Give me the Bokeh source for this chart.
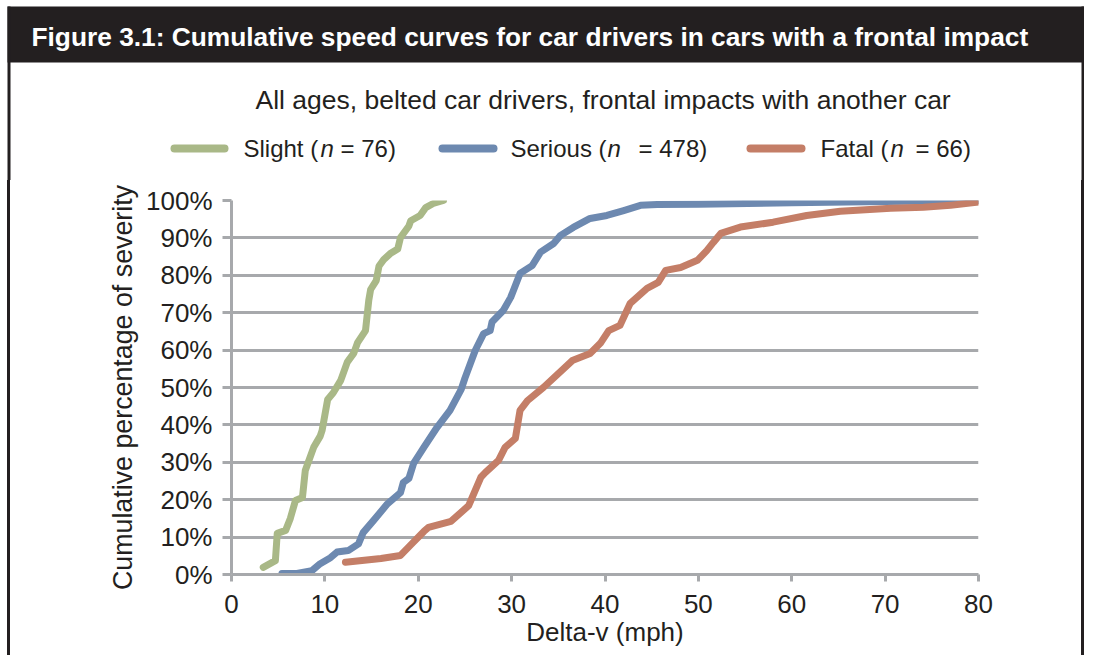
from bokeh.plotting import figure
from bokeh.layouts import column, row
from bokeh.models import Range1d, FixedTicker, PrintfTickFormatter, Spacer
from bokeh.core.properties import value
from bokeh.embed import file_html
from bokeh.resources import INLINE

# ---------------- data ----------------
slight_x = [3.4, 4.7, 4.9, 5.8, 6.3, 6.85, 7.6, 7.9, 8.8, 9.5, 9.7, 10.3, 10.9, 11.7, 12.4,
            13.1, 13.5, 14.35, 14.7, 14.9, 15.5, 15.8, 16.3, 17.0, 17.8, 18.1, 19.0, 19.2,
            20.2, 20.8, 21.6, 22.7]
slight_y = [1.9, 3.7, 11.0, 11.8, 15.0, 19.8, 20.6, 27.8, 34.0, 37.0, 38.5, 46.8, 48.6, 51.9, 56.8,
            59.2, 62.0, 65.2, 73.3, 76.2, 78.6, 82.5, 84.2, 85.8, 87.0, 90.1, 93.2, 94.6,
            96.0, 98.1, 99.2, 100.0]

serious_x = [5.4, 7.0, 8.6, 9.5, 10.6, 11.3, 12.5, 13.6, 14.1, 15.2, 16.7, 18.1, 18.4, 19.0,
             19.5, 20.6, 22.0, 23.4, 24.6, 25.0, 26.1, 27.0, 27.7, 27.9, 29.1, 29.9, 30.9,
             32.2, 33.1, 34.5, 35.2, 36.6, 38.4, 40.2, 42.0, 43.8, 45.6, 50.0, 60.0, 70.0, 80.0]
serious_y = [0.3, 0.3, 1.0, 2.9, 4.5, 6.0, 6.4, 8.2, 11.2, 14.4, 18.9, 21.9, 24.6, 25.7,
             29.7, 34.0, 39.3, 43.9, 49.5, 52.5, 59.9, 64.4, 65.2, 67.5, 70.6, 74.1, 80.5,
             82.6, 86.2, 88.5, 90.6, 92.8, 95.2, 96.0, 97.3, 98.7, 98.9, 99.0, 99.4, 99.7, 100.0]

fatal_x = [12.2, 16.0, 18.1, 19.3, 20.6, 21.1, 23.5, 25.4, 26.7, 27.2, 28.6, 29.3, 30.4, 30.9,
           31.7, 33.4, 36.5, 38.4, 39.5, 40.4, 41.6, 42.7, 44.5, 45.7, 46.5, 48.1, 49.9, 50.9,
           51.6, 52.4, 54.5, 58.0, 61.6, 65.2, 70.6, 74.1, 77.0, 80.0]
fatal_y = [3.3, 4.3, 5.1, 8.2, 11.5, 12.6, 14.2, 18.4, 26.0, 27.3, 30.5, 34.0, 36.4, 43.9,
           46.5, 50.0, 57.2, 59.1, 61.8, 65.2, 66.6, 72.5, 76.5, 78.1, 81.3, 82.1, 84.0, 86.6,
           88.8, 91.2, 92.9, 94.2, 96.0, 97.1, 97.9, 98.2, 98.7, 99.6]

y_ticks = [0, 10, 20, 30, 40, 50, 60, 70, 80, 90, 100]
x_ticks = [0, 10, 20, 30, 40, 50, 60, 70, 80]

title_text = "Figure 3.1:  Cumulative speed curves for car drivers in cars with a frontal impact"
subtitle_text = "All ages, belted car drivers, frontal impacts with another car"
x_label = "Delta-v (mph)"
y_label = "Cumulative percentage of severity"
series_names = ["Slight", "Serious", "Fatal"]
series_n = ["76", "478", "66"]

# ---------------- style ----------------
FONT = "Liberation Sans"
TXT = "#231f20"
GRID = "#a7a9ac"
GREEN = "#a9b887"
BLUE = "#6d89b0"
RED = "#c47e67"
colors = [GREEN, BLUE, RED]

L_WHITE, L_BLACK = 7, 3
MAIN_W = 1065
R_WHITE, R_BLACK = 6, 3
W = L_WHITE + L_BLACK + MAIN_W + R_WHITE + R_BLACK   # 1084
HEAD_H = 180
MAIN_H = 475
LEFT_LINE = L_WHITE + L_BLACK / 2
RIGHT_LINE = W - R_BLACK / 2


def blank(width, height):
    f = figure(width=width, height=height, x_range=Range1d(0, width), y_range=Range1d(height, 0),
               x_axis_type=None, y_axis_type=None, output_backend="svg", toolbar_location=None,
               min_border=0)
    f.outline_line_color = None
    f.grid.visible = False
    f.background_fill_color = "white"
    f.border_fill_color = "white"
    return f


# ---------------- header (page-pixel coordinates) ----------------
head = blank(W, HEAD_H)
head.quad(left=[L_WHITE], right=[W], top=[6], bottom=[62], fill_color=TXT, line_color=None)
head.segment(x0=[LEFT_LINE, RIGHT_LINE], y0=[6, 6], x1=[LEFT_LINE, RIGHT_LINE], y1=[HEAD_H + 2, HEAD_H + 2],
             line_color=TXT, line_width=3)
head.text(x=[31], y=[36], text=[title_text], text_font=value(FONT), text_font_style="bold",
          text_font_size="26.3px", text_color="white", text_baseline="middle", text_align="left")
head.text(x=[255], y=[99], text=[subtitle_text], text_font=value(FONT),
          text_font_size="26.5px", text_color=TXT, text_baseline="middle", text_align="left")

leg_line = [(170, 228), (438, 497), (746, 805)]
leg_name_x = [243, 510, 820]
leg_n_x = [320, 607, 890]
leg_eq_x = [340, 638, 915]
LY = 148
for i in range(3):
    head.segment(x0=[leg_line[i][0] + 4], y0=[LY], x1=[leg_line[i][1] - 4], y1=[LY],
                 line_color=colors[i], line_width=8, line_cap="round")
    head.text(x=[leg_name_x[i]], y=[LY], text=[series_names[i] + " ("], text_font=value(FONT),
              text_font_size="24px", text_color=TXT, text_baseline="middle", text_align="left")
    head.text(x=[leg_n_x[i]], y=[LY], text=["n"], text_font=value(FONT), text_font_style="italic",
              text_font_size="24px", text_color=TXT, text_baseline="middle", text_align="left")
    head.text(x=[leg_eq_x[i]], y=[LY], text=["=  " + series_n[i] + ")"], text_font=value(FONT),
              text_font_size="24px", text_color=TXT, text_baseline="middle", text_align="left")

# ---------------- main chart ----------------
p = figure(frame_width=747, frame_height=374,
           min_border_left=231 - L_WHITE - L_BLACK, min_border_right=MAIN_W - 747 - (231 - L_WHITE - L_BLACK),
           min_border_top=20, min_border_bottom=81,
           x_range=Range1d(0, 80), y_range=Range1d(0, 100),
           output_backend="svg", toolbar_location=None)
p.outline_line_color = None
p.background_fill_color = "white"
p.border_fill_color = "white"

p.xgrid.visible = False
p.ygrid.ticker = FixedTicker(ticks=y_ticks)
p.ygrid.grid_line_color = GRID
p.ygrid.grid_line_width = 3

for ax in (p.xaxis[0], p.yaxis[0]):
    ax.axis_line_color = GRID
    ax.axis_line_width = 3
    ax.major_tick_line_color = GRID
    ax.major_tick_line_width = 3
    ax.major_tick_in = 0
    ax.minor_tick_line_color = None
    ax.major_label_text_font = FONT
    ax.major_label_text_font_size = "26px"
    ax.major_label_text_color = TXT
    ax.axis_label_text_font = FONT
    ax.axis_label_text_font_style = "normal"
    ax.axis_label_text_color = TXT

p.xaxis.axis_label_text_font_size = "26px"
p.yaxis.axis_label_text_font_size = "26.8px"
p.xaxis.ticker = FixedTicker(ticks=x_ticks)
p.yaxis.ticker = FixedTicker(ticks=y_ticks)
p.yaxis.formatter = PrintfTickFormatter(format="%d%%")
p.xaxis.major_tick_out = 7
p.yaxis.major_tick_out = 9
p.xaxis.major_label_standoff = 13
p.yaxis.major_label_standoff = 10
p.xaxis.axis_label = x_label
p.yaxis.axis_label = y_label
p.xaxis.axis_label_standoff = 1
p.yaxis.axis_label_standoff = 5

for xs, ys, c in zip([slight_x, serious_x, fatal_x], [slight_y, serious_y, fatal_y], colors):
    p.line(xs, ys, line_color=c, line_width=7, line_join="round", line_cap="round")

def bar(width, color):
    return Spacer(width=width, height=MAIN_H, margin=0,
                  styles={"background-color": color})

body = row(bar(L_WHITE, "white"), bar(L_BLACK, TXT), p, bar(R_WHITE, "white"), bar(R_BLACK, TXT),
           spacing=0)
layout = column(head, body, spacing=0)

open("out.html", "w").write(file_html(layout, INLINE))
